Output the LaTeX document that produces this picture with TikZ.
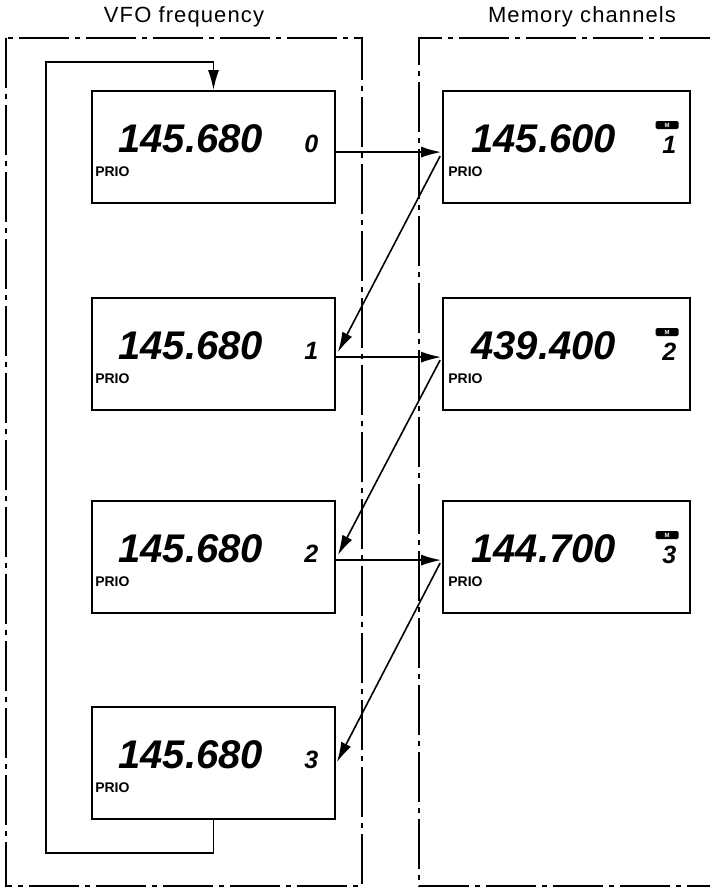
\documentclass[tikz,border=0pt]{standalone}
\usepackage{fontspec}
\setmainfont{Liberation Sans}
\usetikzlibrary{arrows.meta,calc}
\begin{document}
\begin{tikzpicture}[x=1pt,y=-1pt,
  frame/.style={line width=1.6pt, dash pattern=on 50pt off 6pt on 5pt off 6pt},
  lcd/.style={draw, line width=1.8pt, minimum height=112pt, inner sep=0pt},
  lbox/.style={lcd, minimum width=243pt},
  mbox/.style={lcd, minimum width=247pt},
  freq/.style={anchor=base west, inner sep=0pt, font=\fontsize{40}{40}\selectfont\bfseries\itshape},
  chan/.style={anchor=base west, inner sep=0pt, font=\fontsize{25}{25}\selectfont\bfseries\itshape},
  prio/.style={anchor=base west, inner sep=0pt, font=\fontsize{14}{14}\selectfont\bfseries},
  title/.style={inner sep=0pt, font=\fontsize{22}{22}\selectfont\addfontfeature{LetterSpace=5}},
  link/.style={line width=1.6pt, -{Latex[length=20pt,width=11pt]}},
  loopline/.style={line width=1.7pt, -{Latex[length=20pt,width=11pt]}},
  badge/.style={fill=black, rounded corners=1.5pt, minimum width=23pt, minimum height=8pt, inner sep=0pt, text=white, font=\fontsize{6}{6}\selectfont\bfseries}
]
\useasboundingbox (0,0) rectangle (710,888);

% titles
\node[title] (tv) at (184,17) {VFO frequency};
\node[title] (tm) at (582,17) {Memory channels};

% frames
\draw[frame] (6,38) rectangle (362,886);
\draw[frame] (710,38) -- (419,38) -- (419,886) -- (710,886);

% VFO boxes
\foreach \i/\y in {0/147,1/354,2/557,3/763} {
  \node[lbox] (L\i) at (213.5,\y) {};
  \node[freq] (fL\i) at ($(L\i.north west)+(27,62)$) {145.680};
  \node[chan] (cL\i) at ($(L\i.north west)+(213,62)$) {\i};
  \node[prio] (pL\i) at ($(L\i.north west)+(4,86)$) {PRIO};
}

% memory boxes
\foreach \i/\y/\f in {1/147/145.600,2/354/439.400,3/557/144.700} {
  \node[mbox] (M\i) at (566.5,\y) {};
  \node[freq] (fM\i) at ($(M\i.north west)+(29,62)$) {\f};
  \node[badge] (bM\i) at ($(M\i.north west)+(225,35)$) {M};
  \node[chan] (cM\i) at ($(M\i.north west)+(220,63)$) {\i};
  \node[prio] (pM\i) at ($(M\i.north west)+(6,86)$) {PRIO};
}

% loop back
\coordinate (loopB) at (46,853);
\coordinate (loopT) at (46,62);
\draw[loopline] (L3.south) -- (L3.south |- loopB) -- (loopB) -- (loopT)
  -- (L0.north |- loopT) -- (L0.north);

% horizontal links
\draw[link] ($(L0.north east)+(0,62)$) -- ($(M1.north west)+(-1,62)$);
\draw[link] ($(L1.north east)+(0,60)$) -- ($(M2.north west)+(-1,60)$);
\draw[link] ($(L2.north east)+(0,60)$) -- ($(M3.north west)+(-1,60)$);

% diagonal links
\draw[link] ($(M1.north west)+(-2,66)$) -- ($(L1.north east)+(2,55)$);
\draw[link] ($(M2.north west)+(-2,63)$) -- ($(L2.north east)+(2,55)$);
\draw[link] ($(M3.north west)+(-2,63)$) -- ($(L3.north east)+(1,56)$);
\end{tikzpicture}
\end{document}
